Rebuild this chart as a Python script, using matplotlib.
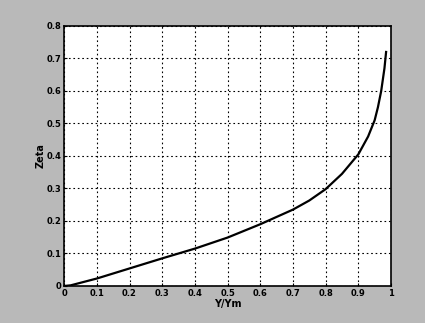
import matplotlib
matplotlib.use("Agg")
import matplotlib.pyplot as plt

# datos
y_ym = [0, 0.02, 0.1, 0.2, 0.3, 0.4, 0.5, 0.6, 0.7, 0.75, 0.8, 0.85, 0.9,
        0.93, 0.95, 0.96, 0.97, 0.98, 0.985]
zeta = [0, 0.002, 0.023, 0.054, 0.085, 0.115, 0.149, 0.19, 0.235, 0.263, 0.298,
        0.345, 0.405, 0.46, 0.51, 0.55, 0.60, 0.67, 0.72]

xticks = [0, 0.1, 0.2, 0.3, 0.4, 0.5, 0.6, 0.7, 0.8, 0.9, 1]
xlabels = ['0', '0.1', '0.2', '0.3', '0.4', '0.5', '0.6', '0.7', '0.8', '0.9', '1']
yticks = [0, 0.1, 0.2, 0.3, 0.4, 0.5, 0.6, 0.7, 0.8]
ylabels = ['0', '0.1', '0.2', '0.3', '0.4', '0.5', '0.6', '0.7', '0.8']

fig = plt.figure(figsize=(4.25, 3.23), dpi=100, facecolor='#b9b9b9')
ax = fig.add_axes([0.151, 0.1146, 0.769, 0.805])
ax.set_facecolor('white')

ax.plot(y_ym, zeta, color='black', linewidth=1.6)

ax.set_xlim(0, 1)
ax.set_ylim(0, 0.8)
ax.set_xticks(xticks)
ax.set_xticklabels(xlabels, fontsize=6, fontweight='bold')
ax.set_yticks(yticks)
ax.set_yticklabels(ylabels, fontsize=6, fontweight='bold')
ax.tick_params(direction='in', length=2, width=0.8, pad=2)

ax.grid(True, color='black', linestyle=(0, (1.5, 2.5)), linewidth=0.8)
for s in ax.spines.values():
    s.set_linewidth(1.2)

ax.set_xlabel('Y/Ym', fontsize=7, fontweight='bold', labelpad=1)
ax.set_ylabel('Zeta', fontsize=7, fontweight='bold', labelpad=1)

fig.savefig('out.png', dpi=100, facecolor=fig.get_facecolor())
